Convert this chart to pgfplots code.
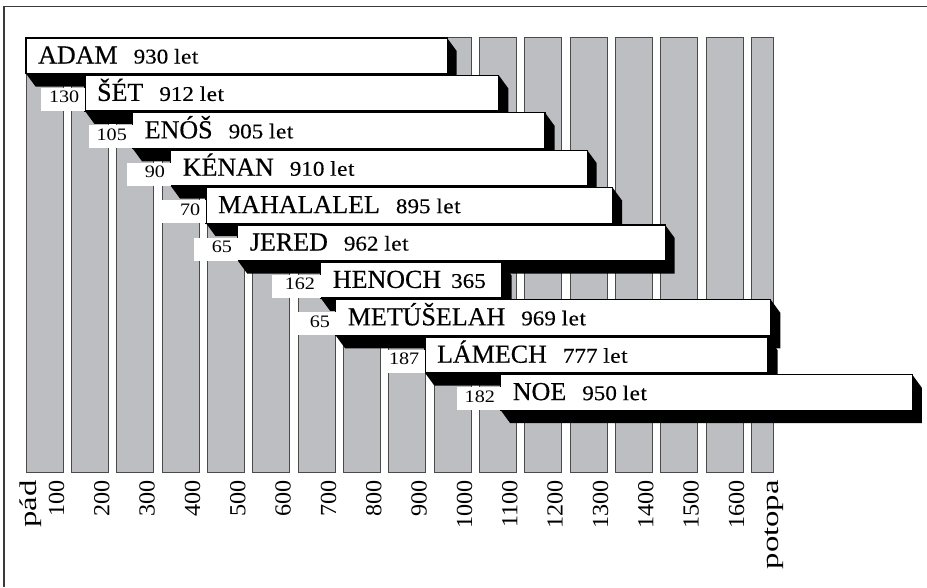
\documentclass[border=0pt]{standalone}
\usepackage{fontspec}
\setmainfont{Liberation Serif}
\newfontfamily\nfont{Liberation Serif}[FakeBold=0.4]
\newfontfamily\wfont{Liberation Serif}[FakeStretch=1.1,FakeBold=0.3]
\newfontfamily\tfont{Liberation Serif}[FakeStretch=1.05]
\newfontfamily\sfont{Liberation Serif}[FakeStretch=1.15]
\usepackage{graphicx}
\usepackage{pgfplots}
\pgfplotsset{compat=1.18}
\definecolor{bargray}{HTML}{BDBEC2}
\definecolor{barline}{HTML}{4A4A4A}
\definecolor{frameline}{HTML}{3A3A3A}
\newcommand\letw{l\kern0.6pt e\kern0.6pt t}
% gray century bars: start, end (years)
\newcommand\graybar[2]{%
  \addplot[fill=bargray,draw=barline,line width=0.9pt] coordinates {(#1,-0.4826) (#2,-0.4826) (#2,11.148) (#1,11.148)} -- cycle;}
% row, start, end, name, life text, father's age, width of age box (years), gap
\newcommand\patriarch[8]{%
 \pgfmathsetmacro\pxc{#2+21}\pgfmathsetmacro\pxd{#3+21}%
 \pgfmathsetmacro\pya{#1-0.4746}\pgfmathsetmacro\pyb{#1+0.4746}%
 \pgfmathsetmacro\pyc{#1-0.1266}\pgfmathsetmacro\pyd{#1+0.8226}%
 \pgfmathsetmacro\pxn{#2-#7}\pgfmathsetmacro\pyn{#1-0.1404}%
 \edef\tmp{%
  \noexpand\addplot[fill=black,draw=none] coordinates {(#2,\pya) (#3,\pya) (\pxd,\pyc) (\pxd,\pyd) (\pxc,\pyd) (#2,\pyb)} -- cycle;
  \noexpand\addplot[fill=white,draw=black,line width=1.2pt] coordinates {(#2,\pya) (#3,\pya) (#3,\pyb) (#2,\pyb)} -- cycle;
 }\tmp
 \ifx\relax#6\relax\else
   \edef\tmp{\noexpand\addplot[fill=white,draw=none] coordinates {(\pxn,\pyn) (#2,\pyn) (#2,\pyb) (\pxn,\pyb)} -- cycle;}\tmp
   \node[anchor=base east, xshift=-5.5pt, yshift=-9.8pt, inner sep=0pt] at (axis cs:#2,#1) {\sfont\fontsize{17.5}{20}\selectfont #6};
 \fi
 \node[anchor=base west, xshift=12pt, yshift=-7.75pt, inner sep=0pt] at (axis cs:#2,#1) {\nfont\fontsize{26}{30}\selectfont #4\hspace{#8}{\wfont\fontsize{21}{25}\selectfont #5}};
}
\begin{document}
\begin{tikzpicture}
\begin{axis}[at={(0,0)}, anchor=north west,
  width=927pt, height=472.7pt, scale only axis,
  xmin=-57.36, xmax=1987.6, ymin=-1.4906, ymax=11.148, y dir=reverse,
  axis line style={draw=none}, clip=false,
  ytick=\empty, major tick length=0pt, xtick style={draw=none},
  xtick={23,84,184,284,384,484,584,684,784,884,984,1084,1184,1284,1384,1484,1584,1659},
  xticklabels={{\fontsize{24}{28}\selectfont\scalebox{1.3}[1]{pád}},100,200,300,400,500,600,700,800,900,1000,1100,1200,1300,1400,1500,1600,{\fontsize{24}{28}\selectfont\scalebox{1.3}[1]{potopa}}},
  xticklabel style={yshift=-7.3pt, rotate=90, anchor=base east, inner sep=0pt, font=\tfont\fontsize{23}{27}\selectfont},
]
\graybar{0}{82}
\graybar{100}{182}
\graybar{200}{282}
\graybar{300}{382}
\graybar{400}{482}
\graybar{500}{582}
\graybar{600}{682}
\graybar{700}{782}
\graybar{800}{882}
\graybar{900}{982}
\graybar{1000}{1082}
\graybar{1100}{1182}
\graybar{1200}{1282}
\graybar{1300}{1382}
\graybar{1400}{1482}
\graybar{1500}{1582}
\graybar{1600}{1648}
\patriarch{0}{0}{929}{ADAM}{930 \letw}{}{97}{16pt}
\patriarch{1}{130}{1043}{ŠÉT}{912 \letw}{130}{97}{16pt}
\patriarch{2}{235}{1145}{ENÓŠ}{905 \letw}{105}{97}{16pt}
\patriarch{3}{319}{1238}{KÉNAN}{910 \letw}{90}{97}{16pt}
\patriarch{4}{397}{1294}{MAHALALEL}{895 \letw}{70}{97}{16pt}
\patriarch{5}{467}{1410}{JERED}{962 \letw}{65}{97}{16pt}
\patriarch{6}{650}{1050}{HENOCH}{365}{162}{108}{10pt}
\patriarch{7}{683}{1643}{METÚŠELAH}{969 \letw}{65}{100}{16pt}
\patriarch{8}{880}{1637}{LÁMECH}{777 \letw}{187}{97}{16pt}
\patriarch{9}{1047}{1955}{NOE}{950 \letw}{182}{97}{16pt}
\end{axis}
\draw[frameline, line width=1.5pt] (4pt,-587pt) -- (4pt,-6.7pt) -- (927pt,-6.7pt);
\pgfresetboundingbox
\path[use as bounding box] (0,0) rectangle (927pt,-587pt);
\end{tikzpicture}
\end{document}
